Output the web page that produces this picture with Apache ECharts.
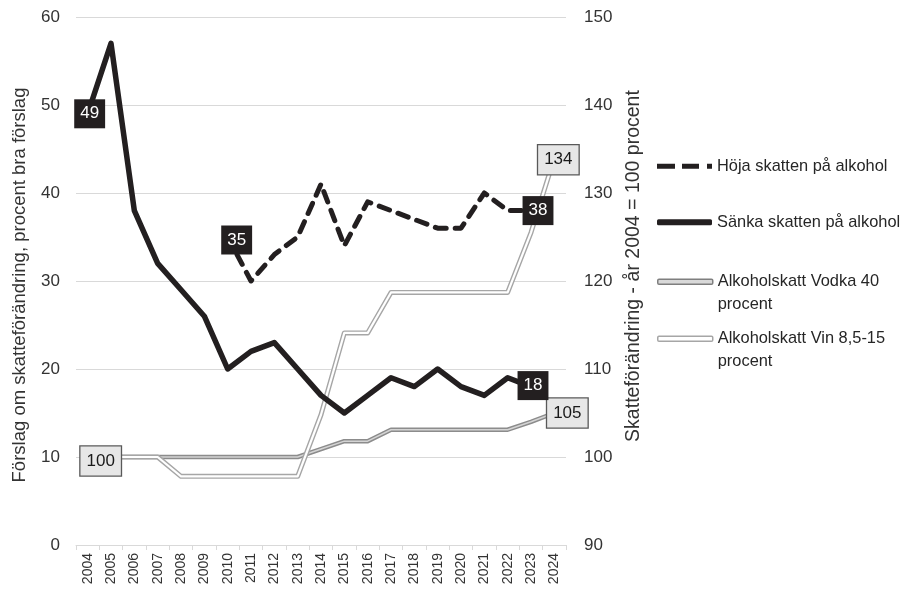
<!DOCTYPE html>
<html>
<head>
<meta charset="utf-8">
<script src="https://cdn.jsdelivr.net/npm/echarts@6/dist/echarts.min.js"></script>
<style>html,body{margin:0;padding:0;background:#fff;}#c{width:908px;height:593px;}</style>
</head>
<body>
<div id="c"></div>
<script>
const years = ['2004','2005','2006','2007','2008','2009','2010','2011','2012','2013','2014','2015','2016','2017','2018','2019','2020','2021','2022','2023','2024'];
const hoja = [null,null,null,null,null,null,35,30,33,35,41,34,39,38,37,36,36,40,38,38,null];
const sanka = [49,57,38,32,29,26,20,22,23,20,17,15,17,19,18,20,18,17,19,18,null];
const vodka = [100,100,100,100,100,100,100,100,100,100,100.9,101.8,101.8,103.1,103.1,103.1,103.1,103.1,103.1,104,105];
const vin = [100,100,100,100,97.8,97.8,97.8,97.8,97.8,97.8,104.8,114.1,114.1,118.7,118.7,118.7,118.7,118.7,118.7,125.5,134];
const leftTicks = [0,10,20,30,40,50,60];
const rightTicks = [90,100,110,120,130,140,150];

const FONT = 'Liberation Sans, Arial, sans-serif';
const names = {
  hoja: 'Höja skatten på alkohol',
  sanka: 'Sänka skatten på alkohol',
  vodka: 'Alkoholskatt Vodka 40 procent',
  vin: 'Alkoholskatt Vin 8,5-15 procent'
};
const legendText = {
  vodka: ' \nAlkoholskatt Vodka 40\nprocent',
  vin: ' \nAlkoholskatt Vin 8,5-15\nprocent'
};

function box(dark, offset) {
  return {
    show: true, position: 'inside', offset: offset,
    backgroundColor: dark ? '#231f20' : '#e7e7e7',
    borderColor: dark ? '#231f20' : '#595959',
    borderWidth: dark ? 0 : 1.3,
    color: dark ? '#ffffff' : '#1a1a1a',
    fontSize: 17, lineHeight: 19, padding: [5, 6, 5, 6], fontFamily: FONT
  };
}
function withLabels(values, labels) {
  return values.map((v, i) => {
    if (labels[i]) {
      return { value: v, symbol: 'circle', symbolSize: 1, label: labels[i] };
    }
    return v;
  });
}

const hojaData = withLabels(hoja, {6: box(true, [9, 3]), 19: box(true, [7, 0])});
const sankaData = withLabels(sanka, {0: box(true, [2, 0]), 19: box(true, [2, -1])});
const vodkaData = withLabels(vodka, {20: box(false, [13, 0])});
const vinData = withLabels(vin, {0: box(false, [13, 4]), 20: box(false, [4, 2])});

const legendBase = {
  orient: 'vertical', left: 657, padding: 0, itemWidth: 55, itemHeight: 5, itemGap: 0,
  selectedMode: false,
  textStyle: { fontSize: 16.4, lineHeight: 22.5, color: '#262626', fontFamily: FONT }
};

const option = {
  animation: false,
  backgroundColor: '#ffffff',
  textStyle: { fontFamily: FONT },
  grid: { left: 76, right: 342, top: 17, bottom: 48, containLabel: false },
  legend: [
    Object.assign({}, legendBase, { top: 155, data: [{ name: names.hoja,
      icon: 'path://M0,0H18V5H0Z M25,0H42V5H25Z M50,0H55V5H50Z', itemStyle: { color: '#231f20' } }] }),
    Object.assign({}, legendBase, { top: 211, itemHeight: 6, data: [{ name: names.sanka,
      icon: 'roundRect', itemStyle: { color: '#231f20' } }] }),
    Object.assign({}, legendBase, { top: 248,
      formatter: () => legendText.vodka,
      data: [{ name: names.vodka, icon: 'roundRect',
      itemStyle: { color: '#d9d9d9', borderColor: '#7f7f7f', borderWidth: 1.5 } }] }),
    Object.assign({}, legendBase, { top: 305,
      formatter: () => legendText.vin,
      data: [{ name: names.vin, icon: 'roundRect',
      itemStyle: { color: '#ffffff', borderColor: '#a6a6a6', borderWidth: 1.5 } }] })
  ],
  xAxis: {
    type: 'category', data: years, boundaryGap: true,
    axisLine: { show: true, lineStyle: { color: '#d9d9d9', width: 1 } },
    axisTick: { show: true, length: 5, lineStyle: { color: '#d9d9d9' } },
    axisLabel: { rotate: 90, fontSize: 14, color: '#333333', margin: 8, fontFamily: FONT, interval: 0 }
  },
  yAxis: [
    {
      type: 'value', min: leftTicks[0], max: leftTicks[leftTicks.length - 1], interval: 10,
      name: 'Förslag om skatteförändring, procent bra förslag', nameLocation: 'middle', nameGap: 47,
      nameTextStyle: { fontSize: 18.5, color: '#333333', fontFamily: FONT, padding: [0, 8, 0, 0] },
      axisLine: { show: false }, axisTick: { show: false },
      axisLabel: { fontSize: 17, color: '#333333', margin: 16, fontFamily: FONT },
      splitLine: { show: true, lineStyle: { color: '#d9d9d9', width: 1 } }
    },
    {
      type: 'value', min: rightTicks[0], max: rightTicks[rightTicks.length - 1], interval: 10,
      name: 'Skatteförändring - år 2004 = 100 procent', nameLocation: 'middle', nameGap: 57,
      nameTextStyle: { fontSize: 19.5, color: '#333333', fontFamily: FONT, padding: [0, 0, 0, 30] },
      axisLine: { show: false }, axisTick: { show: false },
      axisLabel: { fontSize: 17, color: '#333333', margin: 18, fontFamily: FONT },
      splitLine: { show: false }
    }
  ],
  series: [
    {
      name: names.vodka, type: 'line', yAxisIndex: 1, data: vodkaData,
      symbol: 'none', showSymbol: true, z: 3,
      lineStyle: { color: '#8c8c8c', width: 4.5, join: 'round' },
      itemStyle: { color: '#8c8c8c' }
    },
    {
      name: 'vodka-inner', type: 'line', yAxisIndex: 1, data: vodka,
      symbol: 'none', silent: true, z: 3,
      lineStyle: { color: '#d4d4d4', width: 1.5, join: 'round' }
    },
    {
      name: names.vin, type: 'line', yAxisIndex: 1, data: vinData,
      symbol: 'none', showSymbol: true, z: 3,
      lineStyle: { color: '#a6a6a6', width: 5, join: 'round' },
      itemStyle: { color: '#a6a6a6' }
    },
    {
      name: 'vin-inner', type: 'line', yAxisIndex: 1, data: vin,
      symbol: 'none', silent: true, z: 3,
      lineStyle: { color: '#ffffff', width: 2.2, join: 'round' }
    },
    {
      name: names.hoja, type: 'line', yAxisIndex: 0, data: hojaData,
      symbol: 'none', showSymbol: true, connectNulls: false, z: 5,
      lineStyle: { color: '#231f20', width: 5, type: [11, 9], cap: 'round', join: 'round' },
      itemStyle: { color: '#231f20' }
    },
    {
      name: names.sanka, type: 'line', yAxisIndex: 0, data: sankaData,
      symbol: 'none', showSymbol: true, z: 5,
      lineStyle: { color: '#231f20', width: 5.5, cap: 'round', join: 'round' },
      itemStyle: { color: '#231f20' }
    }
  ]
};

const chart = echarts.init(document.getElementById('c'), null, { renderer: 'canvas' });
chart.setOption(option);
</script>
</body>
</html>
